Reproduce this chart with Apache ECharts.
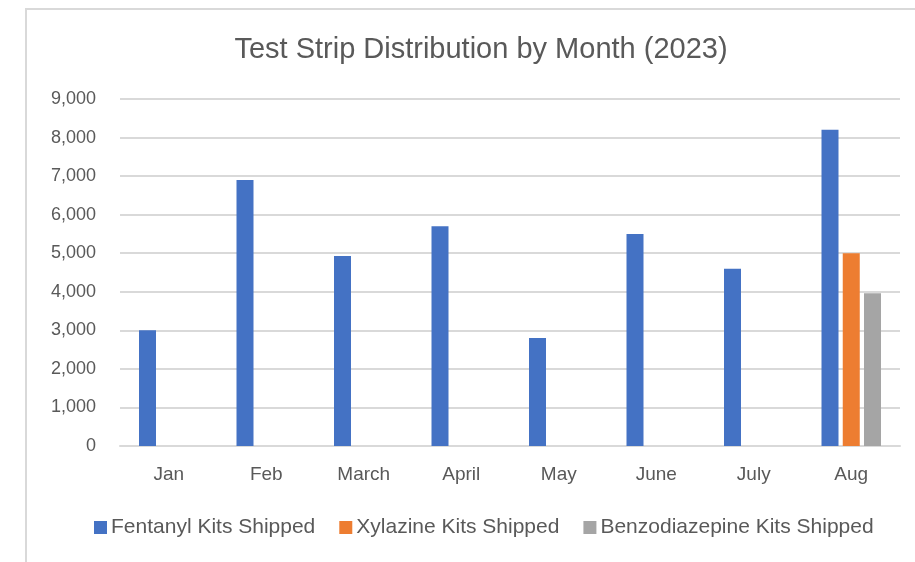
<!DOCTYPE html>
<html>
<head>
<meta charset="utf-8">
<script src="https://cdn.jsdelivr.net/npm/echarts@6/dist/echarts.min.js"></script>
<style>
  html, body { margin: 0; padding: 0; background: #fff; }
  #chart { width: 915px; height: 562px; }
  .frame {
    position: absolute; left: 25px; top: 8px; width: 1000px; height: 600px;
    border-left: 2px solid #d9d9d9; border-top: 2px solid #d9d9d9;
    pointer-events: none;
  }
</style>
</head>
<body>
<div id="chart"></div>
<div class="frame"></div>
<script>
// months and kits shipped
var months = ["Jan", "Feb", "March", "April", "May", "June", "July", "Aug"];
var fentanyl = [3000, 6900, 4930, 5700, 2800, 5500, 4600, 8200];
var xylazine = [null, null, null, null, null, null, null, 5000];
var benzo = [null, null, null, null, null, null, null, 3960];

var textColor = "#595959";
var fontName = "Liberation Sans";

var chart = echarts.init(document.getElementById("chart"));
chart.setOption({
  backgroundColor: "#fff",
  animation: false,
  title: {
    text: "Test Strip Distribution by Month (2023)",
    left: 476,
    textAlign: "center",
    top: 30,
    textStyle: { color: textColor, fontSize: 29, fontWeight: "normal", fontFamily: fontName }
  },
  legend: {
    bottom: 19,
    left: 89,
    icon: "rect",
    itemWidth: 13,
    itemHeight: 13,
    itemGap: 24,
    textStyle: { color: textColor, fontSize: 21, fontFamily: fontName, padding: [0, 0, 0, -1] },
    data: ["Fentanyl Kits Shipped", "Xylazine Kits Shipped", "Benzodiazepine Kits Shipped"]
  },
  grid: { left: 120, right: 15, top: 99, bottom: 116 },
  xAxis: {
    type: "category",
    data: months,
    axisLine: { lineStyle: { color: "#d9d9d9", width: 2 } },
    axisTick: { show: false },
    axisLabel: { color: textColor, fontSize: 19, fontFamily: fontName, margin: 19 }
  },
  yAxis: {
    type: "value",
    min: 0,
    max: 9000,
    interval: 1000,
    axisLine: { show: false },
    axisTick: { show: false },
    splitLine: { lineStyle: { color: "#d9d9d9", width: 2 } },
    axisLabel: {
      color: textColor, fontSize: 18, fontFamily: fontName, margin: 24,
      formatter: function (v) { return v.toLocaleString("en-US"); }
    }
  },
  series: [
    { name: "Fentanyl Kits Shipped", type: "bar", data: fentanyl, barWidth: 17, barGap: "25%",
      itemStyle: { color: "#4472c4" } },
    { name: "Xylazine Kits Shipped", type: "bar", data: xylazine, barWidth: 17, barGap: "25%",
      itemStyle: { color: "#ed7d31" } },
    { name: "Benzodiazepine Kits Shipped", type: "bar", data: benzo, barWidth: 17, barGap: "25%",
      itemStyle: { color: "#a5a5a5" } }
  ]
});
</script>
</body>
</html>
